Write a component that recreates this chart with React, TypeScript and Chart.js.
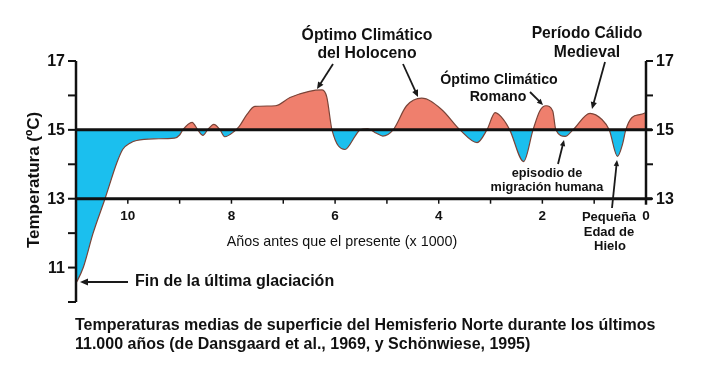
import React, { useEffect, useRef } from "react";
import { Chart, registerables } from "chart.js";

Chart.register(...registerables);

// Data: thousands of years before present, temperature (°C)
const years = [11.0, 10.98, 10.86, 10.67, 10.44, 10.21, 10.1, 9.95, 9.83, 9.5, 9.1, 9.0, 8.94, 8.76, 8.65, 8.55, 8.46, 8.34, 8.22, 8.13, 7.95, 7.85, 7.7, 7.55, 7.15, 6.87, 6.5, 6.25, 6.16, 6.06, 5.81, 5.6, 5.52, 5.37, 5.2, 5.08, 4.88, 4.62, 4.33, 3.95, 3.59, 3.26, 3.07, 2.91, 2.75, 2.63, 2.36, 2.18, 2.05, 1.93, 1.8, 1.74, 1.56, 1.41, 1.08, 0.85, 0.71, 0.55, 0.45, 0.39, 0.27, 0.1, 0.0];
const temps = [10.55, 10.6, 11.0, 12.0, 13.0, 14.05, 14.43, 14.62, 14.69, 14.74, 14.76, 14.85, 15.0, 15.22, 15.0, 14.84, 15.0, 15.16, 15.0, 14.8, 14.95, 15.1, 15.45, 15.68, 15.7, 15.94, 16.12, 16.16, 15.95, 15.0, 14.43, 14.85, 15.0, 15.03, 14.9, 14.82, 15.0, 15.7, 15.92, 15.6, 15.0, 14.63, 15.0, 15.5, 15.3, 15.0, 14.08, 15.0, 15.55, 15.7, 15.55, 15.0, 14.81, 15.0, 15.48, 15.3, 15.0, 14.23, 14.6, 15.0, 15.36, 15.45, 15.5];

const leftTickValues = [17, 16, 15, 14, 13, 12, 11, 10];
const leftTickLabels = [17, 15, 13, 11];
const rightTickValues = [17, 16, 15, 14, 13];
const rightTickLabels = [17, 15, 13];
const xTickValues = [10, 9, 8, 7, 6, 5, 4, 3, 2, 1, 0];
const xTickLabels = [10, 8, 6, 4, 2];
const refLines = [15, 13];

const yTitle = "Temperatura (ºC)";
const xTitle = "Años antes que el presente (x 1000)";
const caption = [
  "Temperaturas medias de superficie del Hemisferio Norte durante los últimos",
  "11.000 años (de Dansgaard et al., 1969, y Schönwiese, 1995)",
];

const FONT = "'Liberation Sans', Arial, Helvetica, sans-serif";
const RED = "#EF7F6D";
const BLUE = "#1BBFEE";
const INK = "#111";

function arrow(ctx: CanvasRenderingContext2D, x1: number, y1: number, x2: number, y2: number, head = 7) {
  const a = Math.atan2(y2 - y1, x2 - x1);
  ctx.save();
  ctx.strokeStyle = "#1a1a1a";
  ctx.fillStyle = "#1a1a1a";
  ctx.lineWidth = 1.8;
  ctx.beginPath();
  ctx.moveTo(x1, y1);
  ctx.lineTo(x2 - Math.cos(a) * head * 0.6, y2 - Math.sin(a) * head * 0.6);
  ctx.stroke();
  ctx.beginPath();
  ctx.moveTo(x2, y2);
  ctx.lineTo(x2 - head * Math.cos(a) + head * 0.45 * Math.sin(a), y2 - head * Math.sin(a) - head * 0.45 * Math.cos(a));
  ctx.lineTo(x2 - head * Math.cos(a) - head * 0.45 * Math.sin(a), y2 - head * Math.sin(a) + head * 0.45 * Math.cos(a));
  ctx.closePath();
  ctx.fill();
  ctx.restore();
}

function text(ctx: CanvasRenderingContext2D, s: string, x: number, y: number, size: number, bold = true, align: CanvasTextAlign = "center") {
  ctx.font = `${bold ? "bold " : ""}${size}px ${FONT}`;
  ctx.textAlign = align;
  ctx.textBaseline = "middle";
  ctx.fillStyle = INK;
  ctx.fillText(s, x, y);
}

const decorPlugin = {
  id: "decor",
  afterDatasetsDraw(chart: any) {
    const ctx: CanvasRenderingContext2D = chart.ctx;
    const xs = chart.scales.x;
    const ys = chart.scales.y;
    const X = (v: number) => xs.getPixelForValue(v);
    const Y = (v: number) => ys.getPixelForValue(v);
    const xl = X(11);
    const xr = X(0);
    ctx.save();
    ctx.strokeStyle = INK;
    ctx.lineCap = "butt";

    // reference lines
    ctx.lineWidth = 3;
    refLines.forEach((v) => {
      ctx.beginPath();
      ctx.moveTo(xl, Y(v));
      ctx.lineTo(xr + 6, Y(v));
      ctx.stroke();
    });

    // left axis
    ctx.lineWidth = 2.5;
    ctx.beginPath();
    ctx.moveTo(xl, Y(17));
    ctx.lineTo(xl, Y(10));
    ctx.stroke();
    ctx.lineWidth = 2;
    leftTickValues.forEach((v) => {
      ctx.beginPath();
      ctx.moveTo(xl - 8, Y(v));
      ctx.lineTo(xl, Y(v));
      ctx.stroke();
    });
    leftTickLabels.forEach((v) => text(ctx, String(v), xl - 11, Y(v) + 1, 16, true, "right"));

    // right axis
    ctx.lineWidth = 2.5;
    ctx.beginPath();
    ctx.moveTo(xr, Y(17));
    ctx.lineTo(xr, Y(13) + 6);
    ctx.stroke();
    ctx.lineWidth = 2;
    rightTickValues.forEach((v) => {
      ctx.beginPath();
      ctx.moveTo(xr, Y(v));
      ctx.lineTo(xr + 7, Y(v));
      ctx.stroke();
    });
    rightTickLabels.forEach((v) => text(ctx, String(v), xr + 10, Y(v) + 1, 16, true, "left"));

    // x ticks on the 13 line
    ctx.lineWidth = 1.5;
    xTickValues.forEach((v) => {
      ctx.beginPath();
      ctx.moveTo(X(v), Y(13));
      ctx.lineTo(X(v), Y(13) + 5);
      ctx.stroke();
    });
    xTickLabels.forEach((v) => text(ctx, String(v), X(v), Y(13) + 18, 13.5, true));
    text(ctx, "0", X(0), Y(13) + 18, 13.5, true);
    text(ctx, xTitle, 342, 242, 14.3, false);

    // y title
    ctx.save();
    ctx.translate(34, 180);
    ctx.rotate(-Math.PI / 2);
    text(ctx, yTitle, 0, 0, 17, true);
    ctx.restore();

    // annotations
    text(ctx, "Óptimo Climático", 367, 36, 15.8);
    text(ctx, "del Holoceno", 367, 54, 15.8);
    arrow(ctx, 333, 64, 317, 89);
    arrow(ctx, 403, 64, 418, 97);

    text(ctx, "Óptimo Climático", 499, 80, 14.2);
    text(ctx, "Romano", 498, 97, 14.2);
    arrow(ctx, 530, 92, 543, 105, 6);

    text(ctx, "Período Cálido", 587, 34, 15.7);
    text(ctx, "Medieval", 587, 53, 15.7);
    arrow(ctx, 605, 62, 592, 109);

    text(ctx, "episodio de", 547, 173, 12.7);
    text(ctx, "migración humana", 547, 187, 12.7);
    arrow(ctx, 558, 164, 564, 140, 6);

    text(ctx, "Pequeña", 609, 217, 13);
    text(ctx, "Edad de", 609, 232, 13);
    text(ctx, "Hielo", 610, 246, 13);
    arrow(ctx, 612, 208, 617, 160, 6);

    text(ctx, "Fin de la última glaciación", 135, 282, 16, true, "left");
    arrow(ctx, 128, 282, 80, 282, 8);

    text(ctx, caption[0], 75, 326, 16, true, "left");
    text(ctx, caption[1], 75, 345, 16, true, "left");

    ctx.restore();
  },
};

export default function App() {
  const ref = useRef<HTMLCanvasElement | null>(null);
  useEffect(() => {
    if (!ref.current) return;
    const chart = new Chart(ref.current, {
      type: "line",
      data: {
        datasets: [
          {
            data: years.map((x, i) => ({ x, y: temps[i] })),
            borderColor: "#7a4438",
            borderWidth: 1.2,
            pointRadius: 0,
            cubicInterpolationMode: "monotone",
            fill: { target: { value: 15 }, above: RED, below: BLUE },
          } as any,
        ],
      },
      options: {
        animation: false,
        responsive: false,
        devicePixelRatio: 1,
        layout: { padding: { left: 76, right: 56, top: 61, bottom: 75 } },
        plugins: { legend: { display: false }, tooltip: { enabled: false } },
        scales: {
          x: { type: "linear", reverse: true, min: 0, max: 11, display: false },
          y: { type: "linear", min: 10, max: 17, display: false },
        },
      },
      plugins: [decorPlugin],
    });
    return () => chart.destroy();
  }, []);
  return (
    <div style={{ position: "absolute", left: 0, top: 0, width: 702, height: 377, background: "#fff" }}>
      <canvas ref={ref} width={702} height={377} />
    </div>
  );
}
